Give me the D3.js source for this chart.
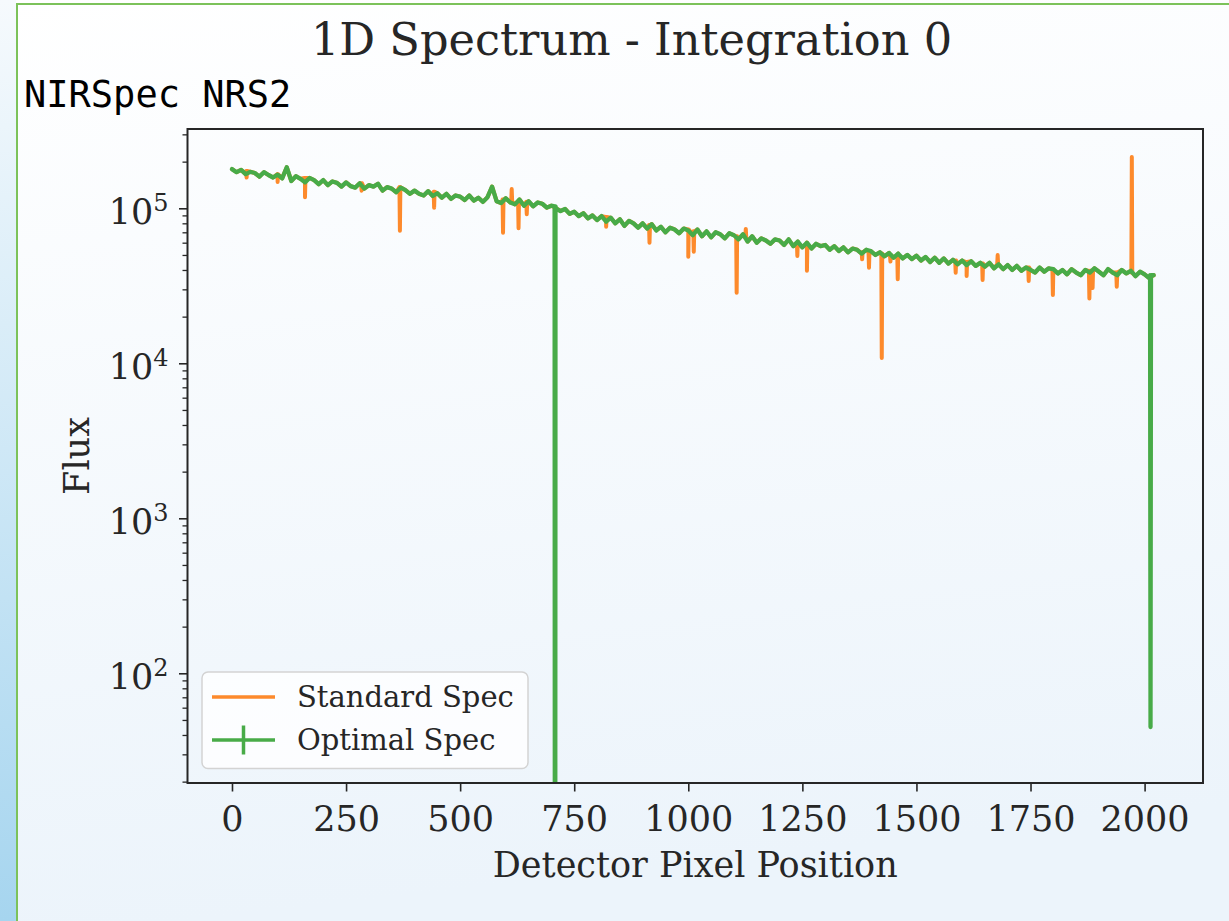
<!DOCTYPE html>
<html lang="en">
  <head>
    <meta charset="utf-8">
    <title>1D Spectrum - Integration 0</title>
    <script src="https://unpkg.com/d3@7/dist/d3.min.js"></script>
    <style type="text/css">
body,html{
    margin: 0;
    padding: 0;
    overflow: hidden;
  }
    </style>
  </head>
  <body>
    <script type="text/javascript">
      // sample pixels every 10 px of the detector, flux in thousands
      const pixelGrid = d3.range(0, 2021, 10);
      const continuumK = [
        179, 171, 177, 166, 172, 169, 160, 171, 164, 158,
        165, 156, 184, 150, 161, 155, 147, 157, 152, 143,
        152, 141, 149, 146, 138, 147, 139, 136, 145, 134,
        141, 138, 144, 130, 137, 134, 127, 136, 131, 124,
        130, 124, 121, 129, 120, 125, 117, 124, 115, 121,
        119, 113, 121, 112, 117, 110, 118, 138, 111, 108,
        116, 109, 106, 114, 104, 111, 103, 109, 107, 101,
        104, 100, 96, 99, 92, 95, 89, 93, 86, 90,
        84, 89, 82, 87, 80, 85, 77, 83, 80, 75,
        80, 74, 79, 72, 76, 70, 75, 73, 69, 74,
        72, 67, 73, 66, 71, 65, 70, 68, 64, 69,
        67, 63, 68, 61, 66, 60, 64, 62, 59, 63,
        62, 58, 63, 57, 61, 56, 60, 55, 59, 57,
        58, 54, 57, 53, 56, 52, 55, 54, 51, 54,
        53, 50, 52, 49, 51.5, 48, 51, 47.5, 50, 47,
        49.5, 46, 48.5, 45, 48, 44.5, 47.5, 44, 46.5, 43.5,
        46, 43, 45.5, 42.5, 44.5, 42, 44.5, 41, 43.5, 40.5,
        43, 40, 42.5, 39.5, 41.5, 40, 38.5, 41.5, 39, 41,
        40.5, 38, 40, 37.5, 40.5, 38.5, 37, 40, 38.5, 41,
        39, 37, 40.5, 38.5, 37, 40, 38, 39.5, 36.5, 39,
        37.5, 35.5, 37
      ];

      // single-pixel outliers of the standard extraction:
      // [pixel, flux k, flux k of the pixels either side]
      const standardSpikes = [
        [32, 158, 174], [100, 148, 166], [160, 118, 157], [284, 130, 145], [368, 71.7, 137],
        [443, 101, 128], [594, 69.6, 114], [613, 133, 111], [628, 74.3, 111], [646, 91.5, 110],
        [820, 76, 88], [915, 60, 78], [1000, 48.7, 73], [1012, 52.5, 71], [1106, 28.5, 66],
        [1126, 73.6, 65], [1239, 49.2, 60], [1260, 39.6, 59], [1381, 46.9, 52], [1396, 41.4, 52],
        [1424, 10.8, 51], [1443, 45.3, 50], [1459, 34.9, 50], [1586, 38.4, 46], [1610, 36.6, 45],
        [1645, 34.5, 44], [1678, 49.9, 43.5], [1746, 34, 41.5], [1799, 27.6, 40], [1879, 26.2, 39.5],
        [1886, 30.6, 39.5], [1939, 31.2, 38.5], [1972, 214, 38.5]
      ];
      // bad pixels of the optimal extraction, same layout
      const optimalDrops = [[708, 0, 103], [2013, 0.045, 37]];

      const xTicks = [0, 250, 500, 750, 1000, 1250, 1500, 1750, 2000];
      const yMajor = [1e2, 1e3, 1e4, 1e5];
      const yMinor = [];
      [1, 2, 3, 4, 5].forEach(function(e) {
        for (let k = 2; k <= 9; k++) yMinor.push(k * Math.pow(10, e));
      });

      const w = 1229;
      const h = 921;
      const plot = { left: 187.5, top: 129, right: 1203, bottom: 783 };

      const orange = "#fd8a2c";
      const green = "#48ab48";
      const ink = "#262626";
      const serif = "'DejaVu Serif', serif";

      const svg = d3.select("body")
        .append("svg")
        .attr("width", w)
        .attr("height", h);

      const defs = svg.append("defs");
      const bg = defs.append("linearGradient").attr("id", "bg")
        .attr("x1", 0).attr("y1", 0).attr("x2", 0.15).attr("y2", 1);
      bg.append("stop").attr("offset", 0).attr("stop-color", "#ffffff");
      bg.append("stop").attr("offset", 1).attr("stop-color", "#ecf4fb");
      const strip = defs.append("linearGradient").attr("id", "strip")
        .attr("x1", 0).attr("y1", 0).attr("x2", 0).attr("y2", 1);
      strip.append("stop").attr("offset", 0).attr("stop-color", "#f6fafd");
      strip.append("stop").attr("offset", 1).attr("stop-color", "#a6d5ef");
      defs.append("clipPath").attr("id", "clip")
        .append("rect")
        .attr("x", plot.left).attr("y", plot.top)
        .attr("width", plot.right - plot.left)
        .attr("height", plot.bottom - plot.top);

      // page background and frame
      svg.append("rect").attr("width", w).attr("height", h).attr("fill", "url(#bg)");
      svg.append("rect").attr("width", 16).attr("height", h).attr("fill", "url(#strip)");
      svg.append("rect")
        .attr("x", 17).attr("y", 4)
        .attr("width", w + 10).attr("height", h + 10)
        .attr("fill", "none")
        .attr("stroke", "#7cc25a")
        .attr("stroke-width", 2);

      const x = d3.scaleLinear()
        .domain([-97.5, 2128])
        .range([plot.left, plot.right]);

      const y = d3.scaleLog()
        .domain([Math.pow(10, 1.2922), Math.pow(10, 5.5116)])
        .range([plot.bottom, plot.top]);

      // build the two spectra: continuum plus single-pixel features
      const base = pixelGrid.map((p, i) => [p, continuumK[i] * 1000]);
      function withFeatures(features) {
        let pts = base.slice();
        features.forEach(function(f) {
          pts.push([f[0] - 1, f[2] * 1000], [f[0], f[1] * 1000], [f[0] + 1, f[2] * 1000]);
        });
        return pts.sort((a, b) => a[0] - b[0]);
      }
      const standard = withFeatures(standardSpikes);
      const optimal = withFeatures(optimalDrops);

      const line = d3.line()
        .x(d => x(d[0]))
        .y(d => y(Math.max(d[1], 1e-3)));

      const lines = svg.append("g").attr("clip-path", "url(#clip)");
      lines.append("path")
        .datum(standard)
        .attr("d", line)
        .attr("fill", "none")
        .attr("stroke", orange)
        .attr("stroke-width", 4)
        .attr("stroke-linejoin", "round")
        .attr("stroke-linecap", "round");
      lines.append("path")
        .datum(optimal)
        .attr("d", line)
        .attr("fill", "none")
        .attr("stroke", green)
        .attr("stroke-width", 4.3)
        .attr("stroke-linejoin", "round")
        .attr("stroke-linecap", "round");

      // axes
      const xAxis = svg.append("g")
        .attr("transform", "translate(0," + plot.bottom + ")")
        .call(d3.axisBottom(x).tickValues(xTicks).tickSize(8.5).tickFormat(d3.format("d")));
      xAxis.select(".domain").remove();
      xAxis.selectAll("line").attr("stroke", ink).attr("stroke-width", 1.6);
      xAxis.selectAll("text")
        .attr("y", 48).attr("dy", null)
        .attr("fill", ink)
        .style("font-family", serif)
        .style("font-size", "35px");

      const yMinorAxis = svg.append("g")
        .attr("transform", "translate(" + plot.left + ",0)")
        .call(d3.axisLeft(y).tickValues(yMinor.filter(v => v >= y.domain()[0] && v <= y.domain()[1])).tickSize(5).tickFormat(""));
      yMinorAxis.select(".domain").remove();
      yMinorAxis.selectAll("line").attr("stroke", ink).attr("stroke-width", 1.3);

      const yAxis = svg.append("g")
        .attr("transform", "translate(" + plot.left + ",0)")
        .call(d3.axisLeft(y).tickValues(yMajor).tickSize(8.5).tickFormat(""));
      yAxis.select(".domain").remove();
      yAxis.selectAll("line").attr("stroke", ink).attr("stroke-width", 1.6);
      const ylab = yAxis.selectAll(".tick").append("text")
        .attr("x", -19)
        .attr("y", 15)
        .attr("text-anchor", "end")
        .attr("fill", ink)
        .style("font-family", serif)
        .style("font-size", "35px");
      ylab.append("tspan").text("10");
      ylab.append("tspan")
        .attr("dy", -13)
        .style("font-size", "24px")
        .text(d => Math.round(Math.log10(d)));

      svg.append("rect")
        .attr("x", plot.left).attr("y", plot.top)
        .attr("width", plot.right - plot.left)
        .attr("height", plot.bottom - plot.top)
        .attr("fill", "none")
        .attr("stroke", ink)
        .attr("stroke-width", 2);

      // texts
      svg.append("text")
        .attr("x", 631.5).attr("y", 55)
        .attr("text-anchor", "middle")
        .attr("fill", ink)
        .style("font-family", serif)
        .style("font-size", "44.7px")
        .text("1D Spectrum - Integration 0");

      svg.append("text")
        .attr("x", 24).attr("y", 107)
        .attr("fill", "#000")
        .style("font-family", "'DejaVu Sans Mono', monospace")
        .style("font-size", "37px")
        .text("NIRSpec NRS2");

      svg.append("text")
        .attr("x", (plot.left + plot.right) / 2).attr("y", 876.5)
        .attr("text-anchor", "middle")
        .attr("fill", ink)
        .style("font-family", serif)
        .style("font-size", "35px")
        .text("Detector Pixel Position");

      svg.append("text")
        .attr("transform", "translate(89," + (plot.top + plot.bottom) / 2 + ") rotate(-90)")
        .attr("text-anchor", "middle")
        .attr("fill", ink)
        .style("font-family", serif)
        .style("font-size", "35px")
        .text("Flux");

      // legend
      const legend = svg.append("g");
      legend.append("rect")
        .attr("x", 202).attr("y", 672)
        .attr("width", 326).attr("height", 96.5)
        .attr("rx", 6)
        .attr("fill", "#ffffff").attr("fill-opacity", 0.8)
        .attr("stroke", "#d3d3d3").attr("stroke-width", 1.5);
      const items = [
        { name: "Standard Spec", color: orange, cy: 697, bar: false },
        { name: "Optimal Spec", color: green, cy: 740, bar: true }
      ];
      items.forEach(function(it) {
        legend.append("line")
          .attr("x1", 212).attr("x2", 275)
          .attr("y1", it.cy).attr("y2", it.cy)
          .attr("stroke", it.color).attr("stroke-width", 3.5);
        if (it.bar) {
          legend.append("line")
            .attr("x1", 243.5).attr("x2", 243.5)
            .attr("y1", it.cy - 14.5).attr("y2", it.cy + 14.5)
            .attr("stroke", it.color).attr("stroke-width", 3.5);
        }
        legend.append("text")
          .attr("x", 297).attr("y", it.cy + 10)
          .attr("fill", ink)
          .style("font-family", serif)
          .style("font-size", "29px")
          .text(it.name);
      });
    </script>
  </body>
</html>
